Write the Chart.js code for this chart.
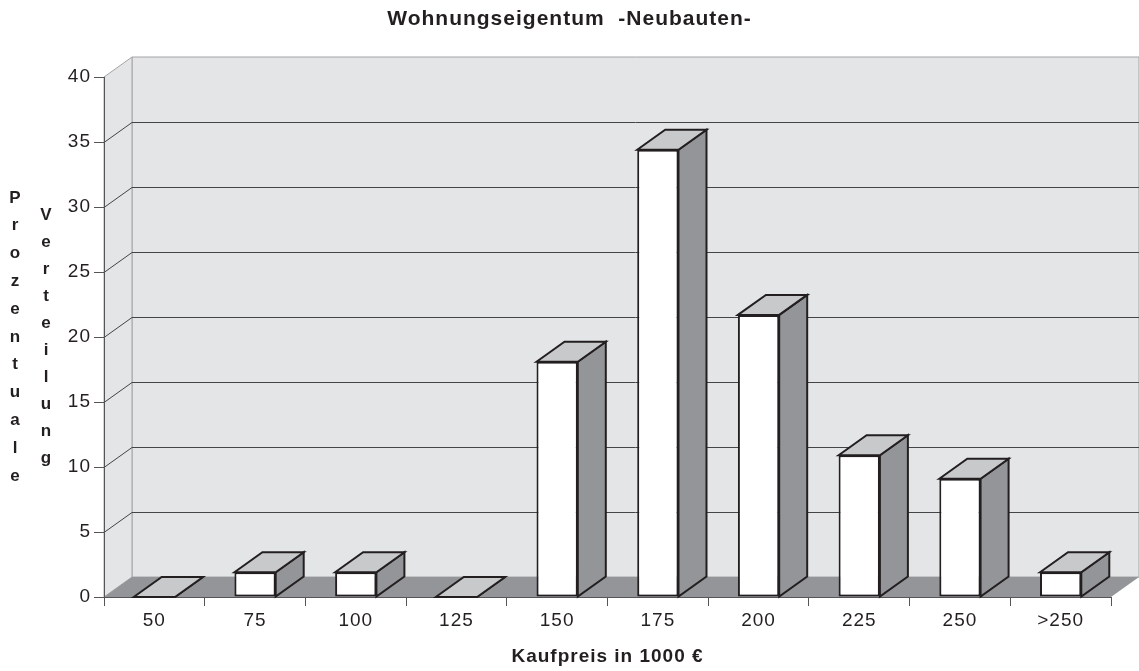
<!DOCTYPE html>
<html>
<head>
  <meta charset="UTF-8">
  <title>Wohnungseigentum -Neubauten-</title>
  <style>
    html, body {
      margin: 0;
      padding: 0;
      background: #fff;
    }
    .chart-container {
      width: 1139px;
      height: 671px;
    }
  </style>
  <script src="https://cdn.jsdelivr.net/npm/chart.js"></script>
</head>
<body>
  <div class="chart-container">
    <canvas id="kaufpreisChart"></canvas>
  </div>

  <script>
    // Daten
    const kategorien = ['50', '75', '100', '125', '150', '175', '200', '225', '250', '>250'];
    const anteile = [0, 1.9, 1.9, 0, 18.1, 34.4, 21.7, 10.9, 9.1, 1.9];
    const yMin = 0;
    const yMax = 40;
    const yStep = 5;

    const diagrammTitel = 'Wohnungseigentum  -Neubauten-';
    const xTitel = 'Kaufpreis in 1000 €';
    const yTitelLinks = 'Prozentuale';
    const yTitelRechts = 'Verteilung';

    // 3D-Tiefe (Versatz nach hinten)
    const DX = 28;
    const DY = -20;

    const SCHRIFT = "'Liberation Sans', Arial, Helvetica, sans-serif";
    const TEXTFARBE = '#231f20';

    function polygon(ctx, punkte, fill, stroke) {
      ctx.beginPath();
      punkte.forEach((p, i) => i ? ctx.lineTo(p[0], p[1]) : ctx.moveTo(p[0], p[1]));
      ctx.closePath();
      if (fill) { ctx.fillStyle = fill; ctx.fill(); }
      if (stroke) { ctx.strokeStyle = stroke; ctx.stroke(); }
    }

    // Wände, Boden und Gitternetz hinter den Säulen
    const raum3d = {
      id: 'raum3d',
      beforeDraw(chart) {
        const ctx = chart.ctx;
        ctx.letterSpacing = '1px';
        const { left, right, top, bottom } = chart.chartArea;
        const yScale = chart.scales.y;

        ctx.save();
        ctx.lineWidth = 1;
        // Rückwand
        polygon(ctx, [[left + DX, top + DY], [right + DX, top + DY], [right + DX, bottom + DY], [left + DX, bottom + DY]], '#e4e5e7', '#a3a4a6');
        // linke Seitenwand
        polygon(ctx, [[left, top], [left + DX, top + DY], [left + DX, bottom + DY], [left, bottom]], '#e4e5e7', '#a3a4a6');
        // Boden
        polygon(ctx, [[left, bottom], [left + DX, bottom + DY], [right + DX, bottom + DY], [right, bottom]], '#939598', null);

        // Gitternetzlinien
        ctx.strokeStyle = '#444446';
        yScale.ticks.forEach(t => {
          if (t.value === yMin || t.value === yMax) return;
          const y = Math.round(yScale.getPixelForValue(t.value)) + 0.5;
          ctx.beginPath();
          ctx.moveTo(left, y);
          ctx.lineTo(left + DX, y + DY);
          ctx.lineTo(right + DX, y + DY);
          ctx.stroke();
        });
        ctx.restore();
      },
      afterDatasetsDraw(chart) {
        const ctx = chart.ctx;
        ctx.save();
        ctx.lineWidth = 2;
        ctx.lineJoin = 'miter';
        chart.getDatasetMeta(0).data.forEach(bar => {
          const { x, y, base, width } = bar.getProps(['x', 'y', 'base', 'width'], true);
          const l = x - width / 2;
          const r = x + width / 2;
          // Seitenfläche
          polygon(ctx, [[r, y], [r + DX, y + DY], [r + DX, base + DY], [r, base]], '#939598', TEXTFARBE);
          // Deckfläche
          polygon(ctx, [[l, y], [l + DX, y + DY], [r + DX, y + DY], [r, y]], '#c8c9cb', TEXTFARBE);
        });
        ctx.restore();
      },
      afterDraw(chart) {
        // senkrecht gestapelte Achsentitel
        const ctx = chart.ctx;
        const mitte = (chart.chartArea.top + chart.chartArea.bottom) / 2;
        ctx.save();
        ctx.letterSpacing = '0px';
        ctx.font = 'bold 17px ' + SCHRIFT;
        ctx.fillStyle = TEXTFARBE;
        ctx.textAlign = 'center';
        ctx.textBaseline = 'middle';
        const abstand1 = 27.8;
        yTitelLinks.split('').forEach((c, i) => {
          ctx.fillText(c, 15, mitte + (i - (yTitelLinks.length - 1) / 2) * abstand1);
        });
        const abstand2 = 27;
        yTitelRechts.split('').forEach((c, i) => {
          ctx.fillText(c, 46, mitte + (i - (yTitelRechts.length - 1) / 2) * abstand2);
        });
        ctx.restore();
      }
    };

    const ctx = document.getElementById('kaufpreisChart').getContext('2d');
    const kaufpreisChart = new Chart(ctx, {
      type: 'bar',
      data: {
        labels: kategorien,
        datasets: [{
          label: 'Prozentuale Verteilung',
          data: anteile,
          backgroundColor: '#ffffff',
          borderColor: TEXTFARBE,
          borderWidth: 2,
          borderSkipped: false,
          barPercentage: 0.41,
          categoryPercentage: 1
        }]
      },
      options: {
        responsive: true,
        maintainAspectRatio: false,
        animation: false,
        layout: {
          padding: 0
        },
        plugins: {
          legend: { display: false },
          tooltip: { enabled: false },
          title: {
            display: true,
            text: diagrammTitel,
            color: TEXTFARBE,
            font: { family: SCHRIFT, size: 21, weight: 'bold' },
            padding: { top: 7, bottom: 44.8 }
          }
        },
        scales: {
          x: {
            grid: {
              display: true,
              drawOnChartArea: false,
              offset: true,
              tickLength: 9,
              color: '#555555'
            },
            border: { display: true, color: '#555555' },
            ticks: {
              color: TEXTFARBE,
              font: { family: SCHRIFT, size: 19 },
              padding: 3,
              maxRotation: 0
            },
            title: {
              display: true,
              text: xTitel,
              color: TEXTFARBE,
              font: { family: SCHRIFT, size: 19, weight: 'bold' },
              padding: { top: 0, bottom: 3 }
            },
            afterFit(scale) { scale.height = 74; }
          },
          y: {
            min: yMin,
            max: yMax,
            grid: {
              display: true,
              drawOnChartArea: false,
              tickLength: 10,
              color: '#555555'
            },
            border: { display: true, color: '#555555' },
            ticks: {
              stepSize: yStep,
              color: TEXTFARBE,
              font: { family: SCHRIFT, size: 19 },
              padding: 3
            },
            afterFit(scale) { scale.width = 104; }
          },
          // Platz für die Raumtiefe rechts
          tiefe: {
            type: 'linear',
            position: 'right',
            display: true,
            grid: { display: false },
            border: { display: false },
            ticks: { display: false },
            afterFit(scale) { scale.width = 28; }
          }
        }
      },
      plugins: [raum3d]
    });
  </script>
</body>
</html>
